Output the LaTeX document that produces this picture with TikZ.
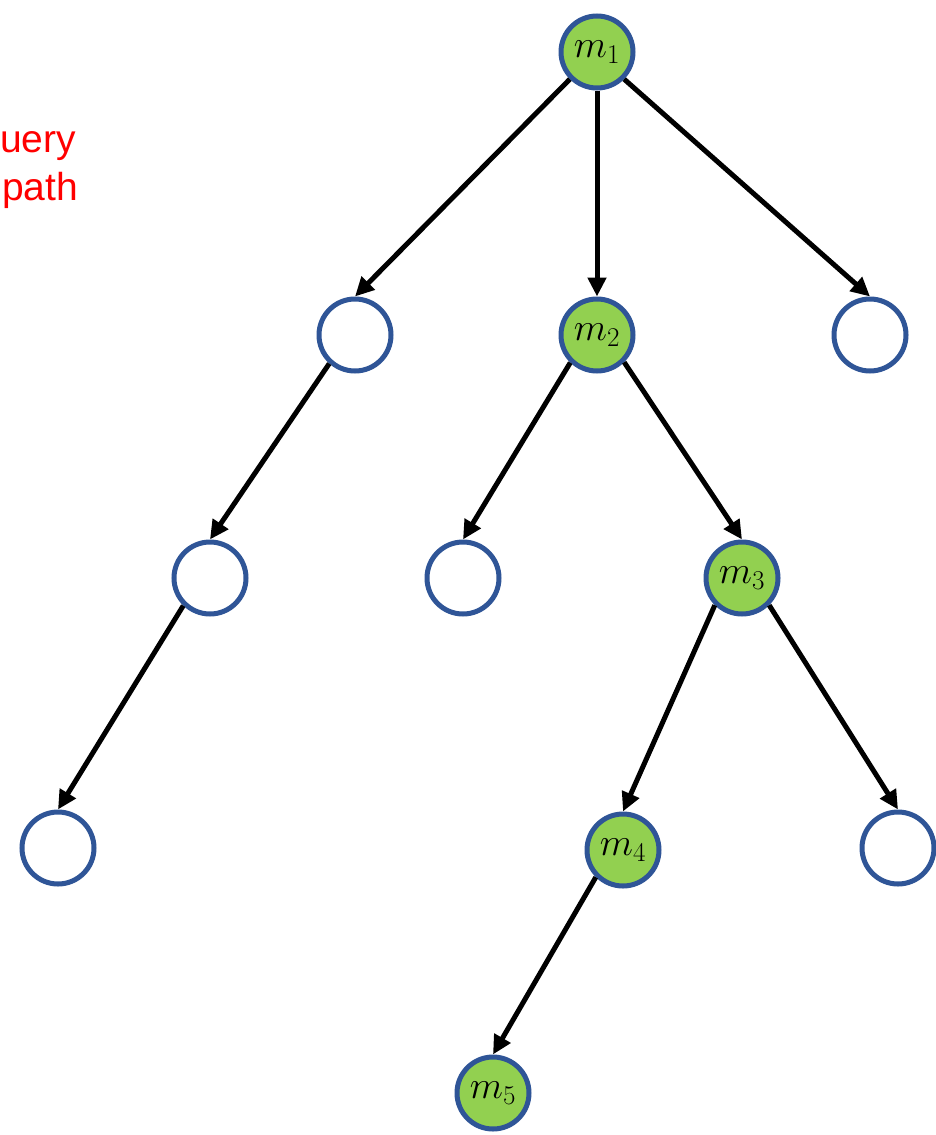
\RequirePackage{fix-cm}
\documentclass[tikz,border=0pt]{standalone}
\usepackage{fontspec}
\setsansfont{Liberation Sans}
\usetikzlibrary{arrows.meta}
\definecolor{ring}{HTML}{2F5597}
\definecolor{leaf}{HTML}{92D050}
\definecolor{pathred}{HTML}{FF0000}
\newcommand{\mlab}[1]{\raisebox{-2pt}{\scalebox{1.25}{$m_{#1}$}}}
\tikzset{
  vtx/.style={circle,draw=ring,line width=5pt,minimum size=72pt,inner sep=0pt,
    fill=white,font=\fontsize{31}{36}\selectfont},
  hit/.style={vtx,fill=leaf},
  arr/.style={-{Triangle[length=19pt,width=18pt]},line width=5pt,draw=black},
  note/.style={font=\sffamily\fontsize{39}{45}\selectfont,text=pathred,
    anchor=base west,inner sep=0pt},
}
\begin{document}
\begin{tikzpicture}[x=1pt,y=-1pt]
  \useasboundingbox (0,0) rectangle (935,1135);
  % query path label
  \node[note] (qword) at (0,152) {uery};
  \node[note] (pword) at (2,200) {path};
  % tree
  \node[hit] (m1) at (597,52) {\mlab{1}};
  \node[vtx] (e1) at (355,335) {};
  \node[hit] (m2) at (597,335) {\mlab{2}};
  \node[vtx] (e2) at (870,335) {};
  \node[vtx] (e3) at (210,578) {};
  \node[vtx] (e4) at (463,578) {};
  \node[hit] (m3) at (742,578) {\mlab{3}};
  \node[vtx] (e5) at (58,848) {};
  \node[hit] (m4) at (623,850) {\mlab{4}};
  \node[vtx] (e6) at (898,848) {};
  \node[hit] (m5) at (493,1093) {\mlab{5}};
  % edges: leave the lower rim, land on the top of the child
  \foreach \a/\b/\s in {m1/e1/225,m1/m2/270,m1/e2/315,e1/e3/228,e3/e5/226,
                        m2/e4/226,m2/m3/315,m3/m4/225,m3/e6/315,m4/m5/225}
    \draw[arr] (\a.\s) -- (\b.north);
\end{tikzpicture}
\end{document}
